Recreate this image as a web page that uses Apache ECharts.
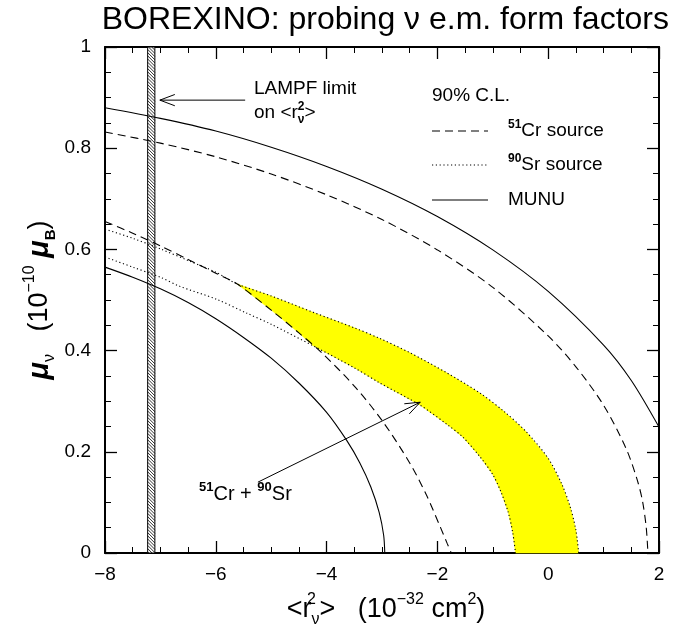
<!DOCTYPE html>
<html><head><meta charset="utf-8">
<script src="https://cdn.jsdelivr.net/npm/echarts@6/dist/echarts.min.js"></script>
<style>html,body{margin:0;padding:0;background:#fff}#c{width:673px;height:636px}</style>
</head><body><div id="c"></div>
<script>
// ---- data ----
const xRange = [-8, 2];
const yRange = [0, 1];
const munuOuter = [[-8,0.880],[-7,0.859],[-6,0.834],[-5,0.802],[-4,0.764],[-3,0.719],[-2,0.665],[-1,0.599],[0,0.517],[1,0.411],[1.5,0.341],[2,0.249]];
const munuInner = [[-8,0.565],[-7.5,0.545],[-7,0.522],[-6.5,0.495],[-6,0.463],[-5.5,0.426],[-5,0.385],[-4.5,0.336],[-4,0.278],[-3.64,0.223],[-3.4,0.178],[-3.2,0.13],[-3.05,0.08],[-2.97,0.035],[-2.95,0]];
const crOuter = [[-8,0.832],[-7,0.810],[-6,0.783],[-5,0.749],[-4,0.708],[-3,0.659],[-2,0.599],[-1,0.525],[0,0.429],[0.5,0.368],[1,0.292],[1.4,0.208],[1.6,0.147],[1.7,0.104],[1.77,0.05],[1.8,0]];
const crInner = [[-8,0.655],[-7.5,0.632],[-7,0.607],[-6.5,0.58],[-6,0.553],[-5.62,0.532],[-5,0.48],[-4.5,0.435],[-4.1,0.397],[-3.5,0.33],[-3.0,0.262],[-2.5,0.178],[-2.2,0.115],[-1.95,0.052],[-1.82,0.018],[-1.75,0]];
const srUpper = [[-8,0.64],[-7.5,0.622],[-7,0.601],[-6.5,0.578],[-6,0.555],[-5.62,0.532],[-5,0.508],[-4.25,0.476],[-3.5,0.445],[-3.04,0.424],[-2.5,0.396],[-1.83,0.356],[-1.23,0.316],[-0.8,0.28],[-0.4,0.24],[0,0.187],[0.25,0.135],[0.4,0.09],[0.5,0.045],[0.55,0]];
const srLower = [[-8,0.585],[-7.5,0.565],[-7,0.545],[-6.65,0.527],[-6,0.502],[-5.44,0.474],[-5,0.452],[-4.25,0.41],[-3.5,0.366],[-3.04,0.336],[-2.31,0.292],[-1.8,0.252],[-1.54,0.229],[-1.23,0.19],[-1,0.155],[-0.85,0.12],[-0.72,0.08],[-0.64,0.04],[-0.59,0]];
const overlapTipX = -5.62;
const overlapCrossX = -4.25;
const lampfBand = [-7.23, -7.10];
const lampfArrow = [-5.47, 0.895, -7.01, 0.895];
const comboArrow = [-5.24, 0.140, -2.31, 0.298];

// ---- build ----
const F = 'Liberation Sans, Arial, sans-serif';
const overlap = srUpper.filter(p => p[0] >= overlapTipX)
  .concat(srLower.filter(p => p[0] >= overlapCrossX).reverse())
  .concat(crInner.filter(p => p[0] > overlapTipX && p[0] < overlapCrossX).reverse());

const chart = echarts.init(document.getElementById('c'), null, {renderer: 'canvas'});

function axisX(pos, labels) {
  return {
    type: 'value', min: xRange[0], max: xRange[1], interval: 2, position: pos,
    axisLine: {show: true, onZero: false, lineStyle: {color: '#000', width: 2}},
    axisTick: {show: true, inside: true, length: 12, lineStyle: {color: '#000', width: 1.3}},
    minorTick: {show: true, splitNumber: 4, length: 6, lineStyle: {color: '#000', width: 1}},
    splitLine: {show: false}, minorSplitLine: {show: false},
    axisLabel: {show: labels, color: '#000', fontSize: 19, fontFamily: F, margin: 12,
      formatter: v => String(v).replace('-', '\u2212')}
  };
}
function axisY(pos, labels) {
  return {
    type: 'value', min: yRange[0], max: yRange[1], interval: 0.2, position: pos,
    axisLine: {show: true, onZero: false, lineStyle: {color: '#000', width: 2}},
    axisTick: {show: true, inside: true, length: 12, lineStyle: {color: '#000', width: 1.3}},
    minorTick: {show: true, splitNumber: 4, length: 6, lineStyle: {color: '#000', width: 1}},
    splitLine: {show: false}, minorSplitLine: {show: false},
    axisLabel: {show: labels, color: '#000', fontSize: 19, fontFamily: F, margin: 14,
      formatter: v => (Math.abs(v) < 1e-9 ? '0' : Math.abs(v - 1) < 1e-9 ? '1' : v.toFixed(1))}
  };
}

function lineSeries(name, data, type) {
  return {
    name, type: 'line', data, showSymbol: false, symbol: 'none', smooth: 0.3,
    xAxisIndex: 0, yAxisIndex: 0, z: 5, silent: true,
    lineStyle: {color: '#000', width: 1.1, type: type, cap: 'butt'}
  };
}

const rich = {
  n: {fontSize: 27, fontFamily: F, lineHeight: 36, color: '#000'},
  ni: {fontSize: 29, fontFamily: F, lineHeight: 36, color: '#000', fontStyle: 'italic', fontWeight: 'bold'},
  sup: {fontSize: 16, fontFamily: F, lineHeight: 17, verticalAlign: 'top', color: '#000'},
  supz: {fontSize: 16, fontFamily: F, lineHeight: 17, verticalAlign: 'top', color: '#000', width: 0},
  sub: {fontSize: 16, fontFamily: F, lineHeight: 17, verticalAlign: 'bottom', color: '#000'},
  subb: {fontSize: 15, fontFamily: F, lineHeight: 17, verticalAlign: 'bottom', color: '#000', fontWeight: 'bold'}
};
function richSmall(size) {
  const s = Math.round(size * 0.63);
  return {
    n: {fontSize: size, fontFamily: F, lineHeight: size + 6, color: '#000'},
    sup: {fontSize: s, fontFamily: F, lineHeight: s + 1, verticalAlign: 'top', color: '#000', fontWeight: 'bold'},
    supz: {fontSize: s, fontFamily: F, lineHeight: s + 1, verticalAlign: 'top', color: '#000', width: 0, fontWeight: 'bold'},
    sub: {fontSize: s, fontFamily: F, lineHeight: s + 1, verticalAlign: 'bottom', color: '#000', fontWeight: 'bold'}
  };
}
const richS = richSmall(19);
const richL = richSmall(20);

function txt(x, y, text, r, align) {
  return {type: 'text', x, y, style: {text, rich: r, align: align || 'left', verticalAlign: 'middle', fill: '#000'}};
}
function legendLine(y, dash) {
  return {type: 'line', shape: {x1: 432, y1: y, x2: 488, y2: y},
    style: {stroke: '#000', lineWidth: 1.1, lineDash: dash}};
}

const option = {
  animation: false,
  backgroundColor: '#fff',
  grid: {left: 105, right: 14, top: 47, bottom: 83},
  xAxis: [axisX('bottom', true), axisX('top', false)],
  yAxis: [axisY('left', true), axisY('right', false)],
  series: [
    {
      type: 'custom', coordinateSystem: 'cartesian2d', z: 1, silent: true,
      data: [[0, 0]],
      renderItem: (params, api) => ({
        type: 'polygon', shape: {points: overlap.map(p => api.coord(p)), smooth: 0},
        style: {fill: '#ffff00', stroke: '#ffff00', lineWidth: 0.5}
      })
    },
    {
      type: 'custom', coordinateSystem: 'cartesian2d', z: 2, silent: true,
      data: [[lampfBand[0], lampfBand[1], yRange[0], yRange[1]]],
      encode: {x: [0, 1], y: [2, 3]},
      renderItem: (params, api) => {
        const p1 = api.coord([api.value(0), api.value(3)]);
        const p2 = api.coord([api.value(1), api.value(2)]);
        const x1 = p1[0], x2 = p2[0], top = p1[1], bot = p2[1], w = x2 - x1;
        const ch = [{type: 'rect', shape: {x: x1, y: top, width: w, height: bot - top},
          style: {fill: '#fff', stroke: '#000', lineWidth: 1}}];
        for (let y = top - w; y < bot; y += 3.2) {
          let sx = x1, sy = y, ex = x2, ey = y + w;
          if (sy < top) { sx += top - sy; sy = top; }
          if (ey > bot) { ex -= ey - bot; ey = bot; }
          if (ex > sx) ch.push({type: 'line', shape: {x1: sx, y1: sy, x2: ex, y2: ey},
            style: {stroke: '#000', lineWidth: 0.8}});
        }
        return {type: 'group', children: ch};
      }
    },
    lineSeries('MUNU upper', munuOuter, 'solid'),
    lineSeries('MUNU lower', munuInner, 'solid'),
    lineSeries('Cr upper', crOuter, [8, 5]),
    lineSeries('Cr lower', crInner, [8, 5]),
    lineSeries('Sr upper', srUpper, [1.2, 2.6]),
    lineSeries('Sr lower', srLower, [1.2, 2.6]),
    {
      type: 'custom', coordinateSystem: 'cartesian2d', z: 6, silent: true,
      data: [lampfArrow, comboArrow],
      encode: {x: [0, 2], y: [1, 3]},
      renderItem: (params, api) => {
        const a = api.coord([api.value(0), api.value(1)]);
        const b = api.coord([api.value(2), api.value(3)]);
        const ang = Math.atan2(b[1] - a[1], b[0] - a[0]);
        const L = 16, t = 0.36;
        const h1 = [b[0] - L * Math.cos(ang - t), b[1] - L * Math.sin(ang - t)];
        const h2 = [b[0] - L * Math.cos(ang + t), b[1] - L * Math.sin(ang + t)];
        return {type: 'group', children: [
          {type: 'line', shape: {x1: a[0], y1: a[1], x2: b[0], y2: b[1]}, style: {stroke: '#000', lineWidth: 1}},
          {type: 'polyline', shape: {points: [h1, b, h2]}, style: {stroke: '#000', fill: null, lineWidth: 1}}
        ]};
      }
    }
  ],
  graphic: [
    {type: 'text', x: 669, y: 20, style: {text: 'BOREXINO: probing \u03bd e.m. form factors',
      font: '32px ' + F, fill: '#000', align: 'right', verticalAlign: 'middle'}},
    {type: 'text', x: 40, y: 300, rotation: Math.PI / 2,
      style: {text: '{ni|\u03bc}{sub|\u03bd}{n|   (10}{sup|\u221210}{n| }{ni|\u03bc}{subb|B}{n|)}', rich,
        align: 'center', verticalAlign: 'middle', fill: '#000'}},
    {type: 'text', x: 386, y: 610,
      style: {text: '{n|<r}{supz|2}{sub|\u03bd}{n|>   (10}{sup|\u221232}{n| cm}{sup|2}{n|)}', rich,
        align: 'center', verticalAlign: 'middle', fill: '#000'}},
    txt(254, 89, '{n|LAMPF limit}', richS),
    txt(254, 113, '{n|on <r}{supz|2}{sub|\u03bd}{n|>}', richS),
    txt(432, 96, '{n|90% C.L.}', richS),
    legendLine(131, [8, 5]),
    txt(508, 131, '{sup|51}{n|Cr source}', richS),
    legendLine(165, [1.2, 2.6]),
    txt(508, 165, '{sup|90}{n|Sr source}', richS),
    legendLine(200, null),
    txt(508, 200, '{n|MUNU}', richS),
    txt(199, 494, '{sup|51}{n|Cr + }{sup|90}{n|Sr}', richL)
  ]
};
chart.setOption(option);
</script>
</body></html>
